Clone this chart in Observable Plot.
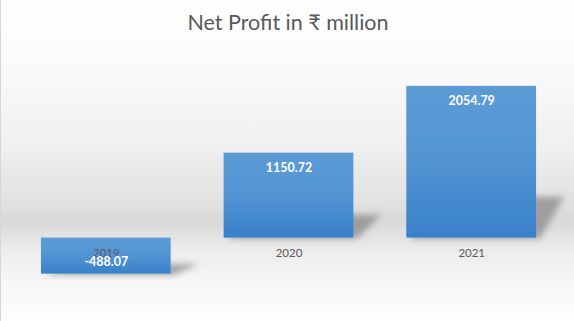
<!DOCTYPE html>
<html>
<head>
<meta charset="utf-8">
<script src="https://cdn.jsdelivr.net/npm/d3@7"></script>
<script src="https://cdn.jsdelivr.net/npm/@observablehq/plot@0.6"></script>
<style>
  html, body { margin: 0; padding: 0; }
  #chart {
    position: relative; width: 574px; height: 321px; overflow: hidden;
    background: linear-gradient(to bottom, #fefefe 0%, #fbfbfb 18%, #f0f0f0 45%, #e2e2e2 62%, #d9d9d9 69%, #ececec 78%, #f7f7f7 88%, #fdfdfd 100%);
    border-left: 1px solid #d6d6d6; box-sizing: border-box;
  }
  #title {
    position: absolute; top: 8px; left: 0; width: 574px; text-align: center; line-height: 28px;
    font-family: Lato, "Noto Sans", "DejaVu Sans", sans-serif; font-size: 21.5px; color: #595959;
  }
  #chart svg { position: absolute; left: -1px; top: 0; background: transparent; }
</style>
</head>
<body>
<div id="chart"><div id="title">Net Profit in ₹ million</div></div>
<script>
const years = ["2019", "2020", "2021"];
const profits = [-488.07, 1150.72, 2054.79];
const valueLabels = ["-488.07", "1150.72", "2054.79"];

const data = years.map((year, i) => ({year, value: profits[i], label: valueLabels[i]}));
const positive = data.filter(d => d.value >= 0);
const negative = data.filter(d => d.value < 0);

const defs = () => {
  const g = d3.create("svg:defs");
  const lg = g.append("linearGradient").attr("id", "barGrad").attr("x1", 0).attr("y1", 0).attr("x2", 0).attr("y2", 1);
  lg.append("stop").attr("offset", "0%").attr("stop-color", "#5c9bd6");
  lg.append("stop").attr("offset", "50%").attr("stop-color", "#5294d3");
  lg.append("stop").attr("offset", "100%").attr("stop-color", "#3880ca");
  g.append("filter").attr("id", "blur").attr("x", "-50%").attr("y", "-50%").attr("width", "200%").attr("height", "200%")
    .append("feGaussianBlur").attr("stdDeviation", 3);
  return g.node();
};

const labelFont = "Lato, 'Noto Sans', sans-serif";

const plot = Plot.plot({
  width: 574,
  height: 321,
  marginLeft: 14.5,
  marginRight: 10.5,
  marginTop: 53.1,
  marginBottom: 38.6,
  style: {background: "transparent"},
  x: {domain: years, paddingInner: 0.29, paddingOuter: 0.145, axis: null},
  y: {domain: [-600, 2500], axis: null},
  marks: [
    defs,
    Plot.barY(data, {x: "year", y: "value", fill: "url(#barGrad)"}),
    Plot.text(data, {x: "year", y: () => 0, dy: 15, text: "year", fill: "#595959",
      fontFamily: labelFont, fontSize: 11.5}),
    Plot.text(positive, {x: "year", y: "value", dy: 15, text: "label", fill: "white",
      fontFamily: labelFont, fontSize: 12.5, fontWeight: "bold"}),
    Plot.text(negative, {x: "year", y: "value", dy: -12, text: "label", fill: "white",
      fontFamily: labelFont, fontSize: 12.5, fontWeight: "bold"})
  ]
});

// perspective shadows derived from the rendered bars
const svg = d3.select(plot);
const barGroup = svg.select('g[aria-label="bar"]');
const shadowG = svg.insert("g", 'g[aria-label="bar"]').attr("filter", "url(#blur)");
barGroup.selectAll("rect").each(function() {
  const r = d3.select(this);
  const x0 = +r.attr("x"), w = +r.attr("width"), y = +r.attr("y"), h = +r.attr("height");
  const x1 = x0 + w, yb = y + h;
  const sh = 0.27 * h, sk = 28;
  shadowG.append("polygon")
    .attr("points", [[x0 + 4, yb + 1], [x1 + 4, yb + 1], [x1 + sk, yb - sh], [x0 + sk, yb - sh]].map(p => p.join(",")).join(" "))
    .attr("fill", "#8a8a8a").attr("fill-opacity", 0.75);
});

document.getElementById("chart").appendChild(plot);
</script>
</body>
</html>
